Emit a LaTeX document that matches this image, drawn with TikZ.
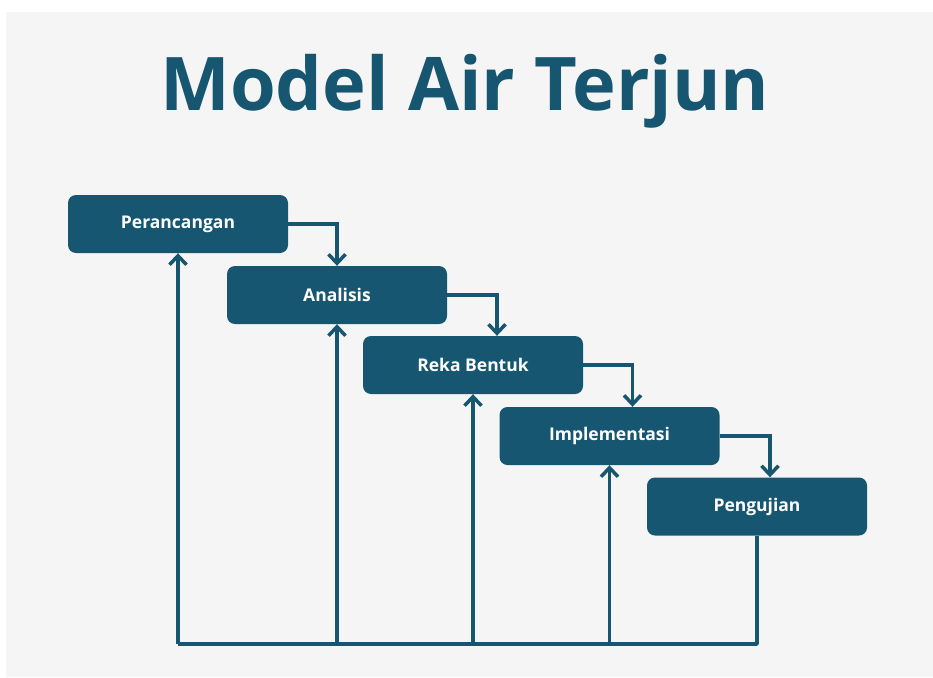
\documentclass[tikz,border=0pt]{standalone}
\usepackage{fontspec}
\setmainfont{Open Sans}
\usepackage{tikz}
\usetikzlibrary{arrows.meta, positioning, calc}
\definecolor{teal}{HTML}{175670}
\definecolor{bggray}{HTML}{F5F5F5}

\begin{document}
\begin{tikzpicture}[
    x=1pt, y=-1pt,
    stage/.style={rectangle, rounded corners=8pt, fill=teal, text=white, minimum width=220pt, minimum height=58pt, font=\fontsize{17.5}{20}\selectfont\bfseries, inner sep=0pt},
    flow/.style={draw=teal, line width=3.5pt, -{Straight Barb[length=9pt, width=17pt, line width=3.5pt]}},
    link/.style={draw=teal, line width=3.5pt}
]
    % Background
    \fill[white] (0,0) rectangle (933,677);
    \fill[bggray] (6,12) rectangle (933,677);
    \useasboundingbox (0,0) rectangle (933,677);

    % Title
    \node[anchor=base, text=teal, font=\fontsize{74}{80}\selectfont\bfseries] (title) at (465,110) {Model Air Terjun};

    % Stages
    \node[stage] (pr) at (178,224) {Perancangan};
    \node[stage] (an) at (337,295) {Analisis};
    \node[stage] (rb) at (473,365) {Reka Bentuk};
    \node[stage] (im) at (609.5,436) {Implementasi};
    \node[stage] (pg) at (757,506.5) {Pengujian};

    % Forward arrows
    \draw[flow] (pr.east) -| (an.north);
    \draw[flow] (an.east) -| ([xshift=24pt]rb.north);
    \draw[flow] (rb.east) -| ([xshift=23pt]im.north);
    \draw[flow] (im.east) -| ([xshift=13pt]pg.north);

    % Feedback lines
    \coordinate (b1) at (178,644);
    \coordinate (b2) at (an.south |- b1);
    \coordinate (b3) at (rb.south |- b1);
    \coordinate (b4) at (im.south |- b1);
    \draw[link, line join=round] (pg.south) |- (b1);
    \draw[flow] (b1) -- (pr.south);
    \draw[flow] (b2) -- (an.south);
    \draw[flow] (b3) -- (rb.south);
    \draw[flow] (b4) -- (im.south);
\end{tikzpicture}
\end{document}
